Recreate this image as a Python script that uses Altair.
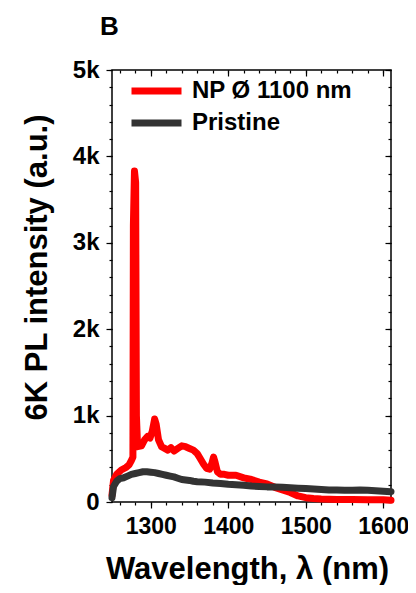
import altair as alt
import pandas as pd

# NP Ø 1100 nm series (wavelength nm, PL intensity a.u.)
np_wl = [1250, 1252, 1256, 1262, 1268, 1272, 1275, 1277, 1277.6, 1279, 1280.5, 1281.5, 1283,
         1288, 1292, 1296, 1299, 1302, 1305, 1307, 1310, 1314, 1318, 1322, 1326, 1330, 1335,
         1340, 1345, 1350, 1355, 1360, 1364, 1368, 1372, 1376, 1379, 1381, 1383, 1386, 1390,
         1395, 1400, 1410, 1420, 1430, 1440, 1450, 1460, 1470, 1480, 1490, 1500, 1510, 1520,
         1540, 1560, 1580, 1600, 1610]
np_int = [80, 250, 320, 370, 400, 430, 480, 520, 3200, 3830, 3700, 1000, 640,
          650, 720, 760, 740, 820, 960, 900, 720, 640, 620, 600, 630, 590, 620,
          650, 640, 620, 600, 560, 500, 440, 390, 380, 450, 520, 460, 350, 320,
          320, 310, 310, 280, 260, 230, 210, 170, 140, 110, 70, 50, 40, 35,
          30, 30, 25, 25, 20]

# Pristine series
pr_wl = [1250, 1252, 1256, 1260, 1265, 1270, 1275, 1280, 1285, 1290, 1295, 1300, 1305,
         1310, 1315, 1320, 1325, 1330, 1335, 1340, 1345, 1350, 1355, 1360, 1370, 1380,
         1390, 1400, 1410, 1420, 1430, 1440, 1450, 1460, 1470, 1480, 1490, 1500, 1510,
         1520, 1530, 1540, 1550, 1560, 1570, 1580, 1590, 1600, 1610]
pr_int = [50, 180, 240, 270, 280, 300, 320, 330, 340, 350, 350, 345, 340,
          330, 320, 310, 300, 290, 275, 260, 255, 250, 240, 235, 230, 220,
          215, 205, 200, 195, 185, 180, 175, 175, 170, 165, 160, 155, 150,
          145, 140, 140, 135, 135, 140, 135, 130, 125, 120]

series_names = ["NP Ø 1100 nm", "Pristine"]
series_colors = ["#ff0000", "#333333"]

x_major = [1300, 1400, 1500, 1600]
x_minor = list(range(1260, 1610, 20))
y_major = [0, 1000, 2000, 3000, 4000, 5000]
y_minor = list(range(0, 5001, 200))

df = pd.concat([
    pd.DataFrame({"wl": np_wl, "val": np_int, "series": series_names[0], "k": 0}),
    pd.DataFrame({"wl": pr_wl, "val": pr_int, "series": series_names[1], "k": 1}),
], ignore_index=True)

FONT = "Liberation Sans"
xs = alt.Scale(domain=[1250, 1610], nice=False, zero=False)
ys = alt.Scale(domain=[0, 5000], nice=False)

def plain_axis(orient, values, size, offset=0):
    return alt.Axis(orient=orient, values=values, tickSize=size, tickWidth=1.2,
                    tickColor="black", labels=False, domain=False, grid=False,
                    title=None, offset=offset)

main = alt.Chart(df).mark_line(strokeWidth=7, strokeJoin="round", strokeCap="round").encode(
    x=alt.X("wl:Q", scale=xs, axis=alt.Axis(
        orient="bottom", values=x_major, format="d", tickSize=6, tickWidth=1.2,
        tickColor="black",
        labelFontSize=23, labelFont=FONT, labelFontWeight="bold", labelColor="black",
        labelPadding=7, domain=False, grid=False,
        title="Wavelength, λ (nm)", titleFont=FONT, titleFontSize=31,
        titleFontWeight="bold", titleColor="black", titleX=135, titleY=76,
        titleBaseline="alphabetic")),
    y=alt.Y("val:Q", scale=ys, axis=alt.Axis(
        orient="left", values=y_major, tickSize=6, tickWidth=1.2, tickColor="black",
        labelFontSize=24, labelFont=FONT, labelFontWeight="bold", labelColor="black",
        labelPadding=7, domain=False, grid=False,
        labelExpr="datum.value == 0 ? '0' : (datum.value / 1000) + 'k'",
        title="6K PL intensity (a.u.)", titleFont=FONT, titleFontSize=31,
        titleFontWeight="bold", titleColor="black", titleX=-66, titleY=197,
        titleBaseline="alphabetic", titleAngle=270)),
    color=alt.Color("series:N", scale=alt.Scale(domain=series_names, range=series_colors),
                    legend=alt.Legend(
                        title=None, orient="none", legendX=31, legendY=7.5,
                        symbolType="M-2.5,0H2.5", symbolSize=400, symbolStrokeWidth=7,
                        labelFont=FONT, labelFontSize=24, labelFontWeight="bold",
                        labelColor="black", labelOffset=22, labelLimit=400,
                        rowPadding=3, padding=0)),
    order="k:Q",
)

def ghost(xax, yax):
    return alt.Chart(df).mark_line(opacity=0).encode(
        x=alt.X("wl:Q", scale=xs, axis=xax),
        y=alt.Y("val:Q", scale=ys, axis=yax),
        detail="series:N",
    )

minor_bl = ghost(plain_axis("bottom", x_minor, 3), plain_axis("left", y_minor, 3))
major_tr = ghost(plain_axis("top", x_major, 6, -6), plain_axis("right", y_major, 6, -6))
minor_tr = ghost(plain_axis("top", x_minor, 3, -3), plain_axis("right", y_minor, 3, -3))

chart = alt.layer(main, minor_bl, major_tr, minor_tr).resolve_axis(
    x="independent", y="independent"
).properties(
    width=279, height=432,
    autosize=alt.AutoSizeParams(type="none"),
    padding={"left": 104, "top": 62, "right": 17, "bottom": 83},
    title=alt.TitleParams(text="B", anchor="start", fontSize=26, font=FONT,
                          fontWeight="bold", color="black", dx=-12, dy=5, offset=2,
                          baseline="alphabetic", frame="group"),
).configure_view(stroke="black", strokeWidth=1.5)

chart.save("out.html", embed_options={"renderer": "svg", "actions": False})
